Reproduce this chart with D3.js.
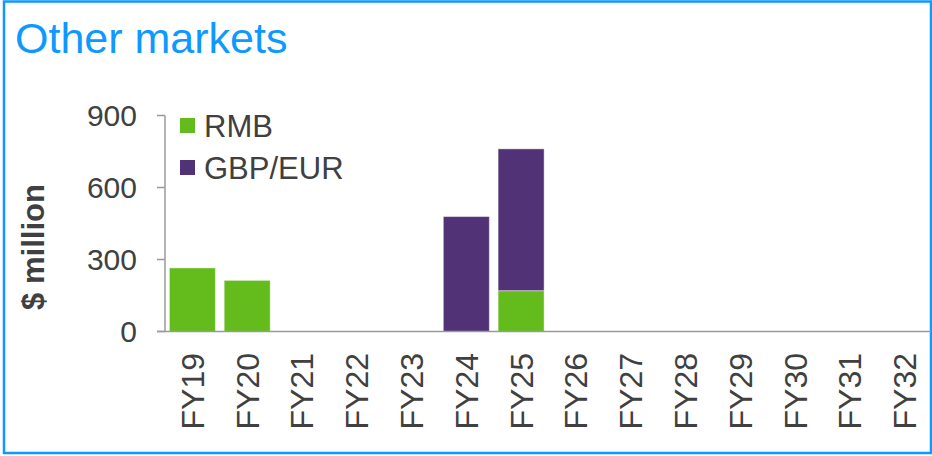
<!DOCTYPE html>
<html lang="en">
<head>
    <meta charset="UTF-8">
    <title>Other markets</title>
    <style>
        body {
            margin: 0;
            background-color: #fff;
            font-family: Arial, "Liberation Sans", sans-serif;
        }

        .axis-line {
            stroke: #9a9a9a;
            stroke-width: 1.5px;
        }

        .tick-label {
            font-size: 30px;
            fill: #404040;
        }

        .x-label {
            font-size: 32px;
        }

        .legend-label {
            font-size: 31px;
            fill: #404040;
        }
    </style>
</head>
<body>
    <svg id="chart" width="932" height="456"></svg>

    <script src="https://d3js.org/d3.v7.min.js"></script>
    <script>
        // data ($ million)
        const categories = ["FY19", "FY20", "FY21", "FY22", "FY23", "FY24", "FY25",
                            "FY26", "FY27", "FY28", "FY29", "FY30", "FY31", "FY32"];
        const rmb    = [265, 213, 0, 0, 0, 0, 170, 0, 0, 0, 0, 0, 0, 0];
        const gbpEur = [0, 0, 0, 0, 0, 479, 591, 0, 0, 0, 0, 0, 0, 0];
        const yTicks = [0, 300, 600, 900];
        const seriesNames = ["RMB", "GBP/EUR"];
        const seriesColors = ["#64bb1c", "#523276"];

        const svg = d3.select("#chart");

        // outer frame
        svg.append("rect")
            .attr("x", 4)
            .attr("y", 1.5)
            .attr("width", 927)
            .attr("height", 451.5)
            .attr("fill", "none")
            .attr("stroke", "#0d99ff")
            .attr("stroke-width", 2.5);

        svg.append("text")
            .attr("x", 15)
            .attr("y", 53)
            .style("font-size", "43px")
            .style("fill", "#0d99ff")
            .text("Other markets");

        const x = d3.scaleBand()
            .domain(categories)
            .range([165, 932])
            .paddingInner(0.16)
            .paddingOuter(0.08);

        const y = d3.scaleLinear()
            .domain([0, 900])
            .range([331.5, 115.5]);

        // stack the two series
        const table = categories.map((c, i) => ({ cat: c, RMB: rmb[i], "GBP/EUR": gbpEur[i] }));
        const stacked = d3.stack().keys(seriesNames)(table);

        svg.selectAll(".layer")
            .data(stacked)
            .enter()
            .append("g")
            .attr("class", "layer")
            .attr("fill", (d, i) => seriesColors[i])
            .selectAll("rect")
            .data(d => d.filter(p => p[1] - p[0] > 0))
            .enter()
            .append("rect")
            .attr("x", d => x(d.data.cat))
            .attr("width", x.bandwidth())
            .attr("y", d => y(d[1]))
            .attr("height", d => y(d[0]) - y(d[1]))
            .attr("stroke", "rgba(255,255,255,0.45)")
            .attr("stroke-width", 1);

        // y axis
        const yAxis = svg.append("g");
        yAxis.append("line")
            .attr("class", "axis-line")
            .attr("x1", 165).attr("x2", 165)
            .attr("y1", y(900)).attr("y2", y(0));
        yAxis.selectAll(".tick")
            .data(yTicks)
            .enter()
            .append("line")
            .attr("class", "axis-line")
            .attr("x1", 157).attr("x2", 165)
            .attr("y1", d => y(d)).attr("y2", d => y(d));
        yAxis.selectAll(".tick-label")
            .data(yTicks)
            .enter()
            .append("text")
            .attr("class", "tick-label")
            .attr("x", 137)
            .attr("y", d => y(d))
            .attr("dy", "0.36em")
            .attr("text-anchor", "end")
            .text(d => d);

        svg.append("text")
            .attr("transform", "translate(44,247) rotate(-90)")
            .attr("text-anchor", "middle")
            .style("font-size", "31px")
            .style("font-weight", "bold")
            .style("fill", "#404040")
            .text("$ million");

        // x axis
        svg.append("line")
            .attr("class", "axis-line")
            .attr("x1", 157).attr("x2", 931)
            .attr("y1", y(0)).attr("y2", y(0));

        svg.selectAll(".x-label")
            .data(categories)
            .enter()
            .append("text")
            .attr("class", "tick-label x-label")
            .attr("transform", d => `translate(${x(d) + x.bandwidth() / 2},353) rotate(-90)`)
            .attr("dy", "0.36em")
            .attr("text-anchor", "end")
            .text(d => d);

        // legend
        const legend = svg.selectAll(".legend")
            .data(seriesNames)
            .enter()
            .append("g")
            .attr("class", "legend")
            .attr("transform", (d, i) => `translate(180,${118 + i * 42})`);

        legend.append("rect")
            .attr("width", 15)
            .attr("height", 15)
            .attr("fill", (d, i) => seriesColors[i]);

        legend.append("text")
            .attr("class", "legend-label")
            .attr("x", 24)
            .attr("y", 18.5)
            .text(d => d);
    </script>
</body>
</html>
